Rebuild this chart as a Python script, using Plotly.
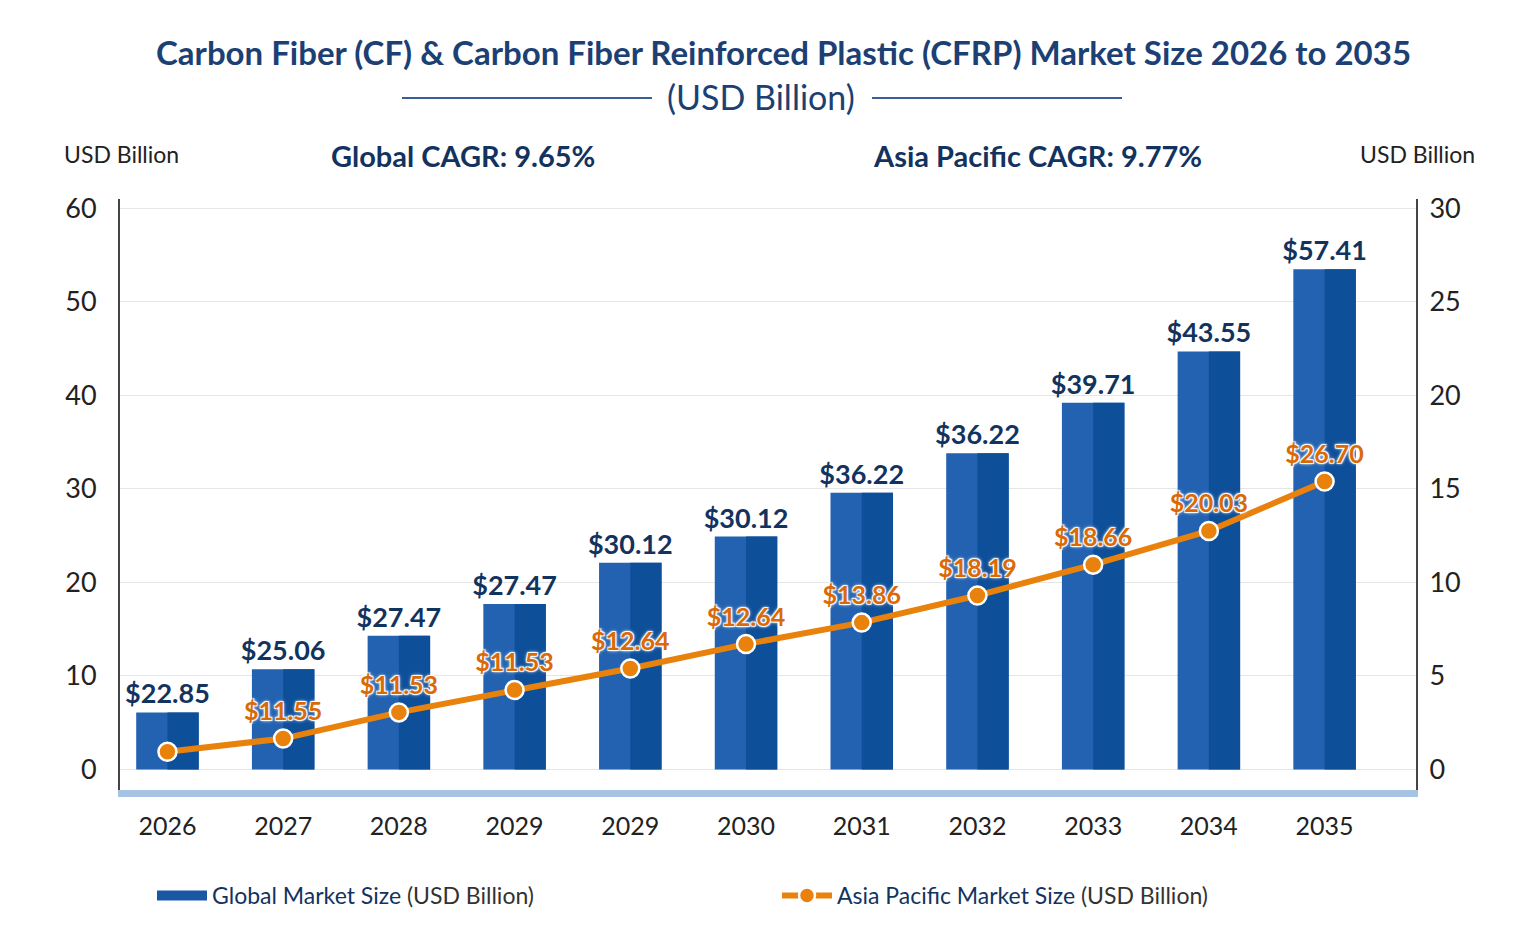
import plotly.graph_objects as go

years = ["2026", "2027", "2028", "2029", "2029", "2030", "2031", "2032", "2033", "2034", "2035"]
global_height = [6.1, 10.7, 14.3, 17.7, 22.1, 24.9, 29.6, 33.8, 39.2, 44.7, 53.5]
global_labels = ["$22.85", "$25.06", "$27.47", "$27.47", "$30.12", "$30.12", "$36.22", "$36.22", "$39.71", "$43.55", "$57.41"]
apac_height = [0.95, 1.65, 3.05, 4.25, 5.4, 6.7, 7.85, 9.3, 10.95, 12.75, 15.4]
apac_labels = ["", "$11.55", "$11.53", "$11.53", "$12.64", "$12.64", "$13.86", "$18.19", "$18.66", "$20.03", "$26.70"]

x = list(range(len(years)))
navy = "#13335f"
orange = "#e8820c"
font = "Lato"

# plot area in pixels; the page itself sits a few pixels in from the window edge
OX, OY = 6, 8
L, R, T, B = 112, 1408, 191, 782


def px(xp):
    return (xp - OX - L) / (R - L)


def py(yp):
    return (B - (yp - OY)) / (B - T)


fig = go.Figure()

fig.add_trace(go.Bar(
    x=x, y=global_height, width=0.54,
    marker=dict(color="#2262b0", line=dict(width=0)),
    text=global_labels, textposition="outside", cliponaxis=False, constraintext="none",
    textfont=dict(family=font, size=27, color=navy, weight="bold"),
    showlegend=False,
))
# darker right half of each bar
fig.add_trace(go.Bar(
    x=x, y=global_height, width=0.27, offset=0,
    marker=dict(color="#0e4f9a", line=dict(width=0)),
    showlegend=False, hoverinfo="skip",
))
# legend entry for the bars: a wide block like the reference key
fig.add_trace(go.Scatter(
    x=[None], y=[None], mode="lines",
    line=dict(color="#1a58a6", width=20),
    name="<span style='color:#13335f'>Global Market Size</span> <span style='color:#333'>(USD Billion)</span>",
))

fig.add_trace(go.Scatter(
    x=x, y=apac_height, yaxis="y2", mode="lines+markers+text",
    line=dict(color=orange, width=6),
    marker=dict(size=18, color=orange, line=dict(color="white", width=2.5)),
    text=apac_labels, textposition="top center", cliponaxis=False,
    textfont=dict(family=font, size=25, color="#d96a07", weight="bold",
                  shadow="1px 1px 1px white, -1px -1px 1px white, 1px -1px 1px white, -1px 1px 1px white, 0 0 4px white"),
    name="<span style='color:#13335f'>Asia Pacific Market Size</span> <span style='color:#333'>(USD Billion)</span>",
))

fig.update_layout(
    width=1536, height=941,
    paper_bgcolor="white", plot_bgcolor="white",
    margin=dict(l=L, r=1536 - R, t=T, b=941 - B, autoexpand=False),
    font=dict(family=font, color="#222"),
    barmode="overlay",
    showlegend=True,
    legend=dict(orientation="h", x=px(150), y=py(874), xanchor="left", yanchor="top",
                font=dict(family=font, size=23), entrywidth=560, itemwidth=50),
    xaxis=dict(range=[-0.41, 10.79], tickmode="array", tickvals=x, ticktext=years,
               tickfont=dict(size=25, color="#222"), showgrid=False, ticklabelstandoff=8,
               showline=True, linecolor="#a7c3e3", linewidth=7, ticks=""),
    yaxis=dict(range=[-2.2, 61], tickvals=[0, 10, 20, 30, 40, 50, 60],
               tickfont=dict(size=27, color="#222"), gridcolor="#e6e6e6", gridwidth=1,
               ticklabelstandoff=16,
               showline=True, linecolor="#444", linewidth=2, zeroline=False, ticks=""),
    yaxis2=dict(range=[-1.1, 30.5], overlaying="y", side="right",
                tickvals=[0, 5, 10, 15, 20, 25, 30],
                tickfont=dict(size=27, color="#222"), showgrid=False, ticklabelstandoff=6,
                showline=True, linecolor="#444", linewidth=2, zeroline=False, ticks=""),
)

texts = [
    ("Carbon Fiber (CF) & Carbon Fiber Reinforced Plastic (CFRP) Market Size 2026 to 2035", 781, 52, 33, "#1c3f74", "bold"),
    ("(USD Billion)", 759, 97, 34, "#1c3f74", "normal"),
    ("USD Billion", 119, 154, 23, "#222", "normal"),
    ("USD Billion", 1416, 154, 23, "#222", "normal"),
    ("Global CAGR: 9.65%", 461, 155, 29, navy, "bold"),
    ("Asia Pacific CAGR: 9.77%", 1035, 155, 29, navy, "bold"),
]
for txt, xp, yp, size, color, weight in texts:
    fig.add_annotation(text=txt, xref="paper", yref="paper", x=px(xp), y=py(yp),
                       xanchor="center", yanchor="middle", showarrow=False,
                       font=dict(family=font, size=size, color=color, weight=weight))

# rules beside the subtitle
for x0, x1 in [(400, 650), (870, 1120)]:
    fig.add_shape(type="line", xref="paper", yref="paper",
                  x0=px(x0), x1=px(x1), y0=py(98), y1=py(98),
                  line=dict(color="#3a5f96", width=2))

fig.write_html("out.html")
